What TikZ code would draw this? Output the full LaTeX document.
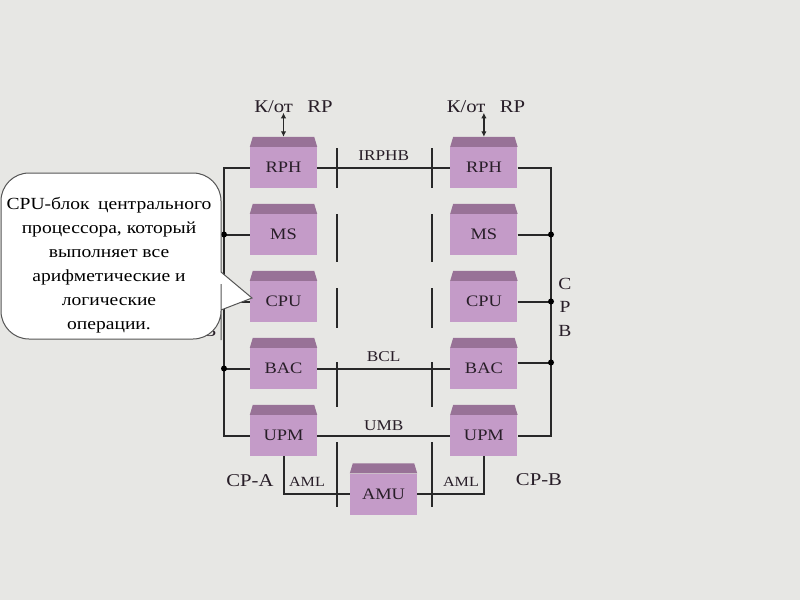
\documentclass[tikz,border=0pt]{standalone}
\usepackage{fontspec}
\setmainfont{Liberation Serif}[FakeStretch=1.15]
\usetikzlibrary{arrows.meta, positioning, calc}
\definecolor{cBack}{RGB}{231,231,228}
\definecolor{cBody}{RGB}{196,155,200}
\definecolor{cTop}{RGB}{152,114,151}
\definecolor{cLine}{RGB}{40,40,40}
\definecolor{cEdge}{RGB}{85,85,85}
\definecolor{cText}{RGB}{40,30,40}
\tikzset{
	unitbox/.style={rectangle, fill=cBody, minimum width=67pt, minimum height=41pt, inner sep=0pt, text=cText, font=\fontsize{16}{16}\selectfont},
	unittop/.style={fill=cTop},
	bus/.style={draw=cLine, line width=2pt},
	tap/.style={circle, fill=black, inner sep=0pt, minimum size=6pt},
	rparrow/.style={{Latex[length=5.5pt,width=5.5pt]}-{Latex[length=5.5pt,width=5.5pt]}, draw=cLine, line width=1.3pt},
	divider/.style={draw=cLine, line width=1.2pt},
	buslabel/.style={font=\fontsize{15}{15}\selectfont, inner sep=0pt, text=cText},
	sidelabel/.style={font=\fontsize{18}{18}\selectfont, inner sep=0pt, text=cText},
	callout/.style={fill=white, draw=cEdge, line width=1pt},
	callouttext/.style={align=center, font=\fontsize{17}{24}\selectfont, inner sep=0pt, text=black},
}
\begin{document}
\begin{tikzpicture}[x=1pt, y=-1pt, node distance=25.6pt]
\fill[cBack] (0,0) rectangle (800,600);
% CP-A column
\node[unitbox] (rphA) at (283.5,167.5) {RPH};
\node[unitbox, below=of rphA] (msA) {MS};
\node[unitbox, below=of msA] (cpuA) {CPU};
\node[unitbox, below=of cpuA] (bacA) {BAC};
\node[unitbox, below=of bacA] (upmA) {UPM};
% CP-B column
\node[unitbox, right=133pt of rphA] (rphB) {RPH};
\node[unitbox, below=of rphB] (msB) {MS};
\node[unitbox, below=of msB] (cpuB) {CPU};
\node[unitbox, below=of cpuB] (bacB) {BAC};
\node[unitbox, below=of bacB] (upmB) {UPM};
\node[unitbox] (amu) at (383.5,494) {AMU};
\foreach \n in {rphA,msA,cpuA,bacA,upmA,rphB,msB,cpuB,bacB,upmB,amu}
	\fill[unittop] (\n.north west) -- ([shift={(3pt,10pt)}]\n.north west) -- ([shift={(-3pt,10pt)}]\n.north east) -- (\n.north east) -- cycle;
% dividers
\foreach \a/\b in {148/188,214/262,288/328,362/407,442/507}{
	\draw[divider] (337,\a) -- (337,\b);
	\draw[divider] (432,\a) -- (432,\b);
}
% buses
\coordinate (busA) at (224,0);
\coordinate (busB) at (551,0);
\draw[bus] (rphA.west) -- (rphA.west -| busA) -- (upmA.west -| busA) -- (upmA.west);
\draw[bus] (rphB.east) -- (rphB.east -| busB) -- (upmB.east -| busB) -- (upmB.east);
\foreach \n in {msA,cpuA,bacA} \draw[bus] (\n.west) -- (\n.west -| busA) node[tap] {};
\foreach \n in {msB,cpuB} \draw[bus] (\n.east) -- (\n.east -| busB) node[tap] {};
\draw[bus] ([yshift=6pt]bacB.east) -- ([yshift=6pt]bacB.east -| busB) node[tap] {};
\draw[bus] (rphA.east) -- node[buslabel, above=6pt] {IRPHB} (rphB.west);
\draw[bus] (bacA.east) -- node[buslabel, above=6pt] {BCL} (bacB.west);
\draw[bus] (upmA.east) -- node[buslabel, above=4pt] {UMB} (upmB.west);
\draw[bus] (upmA.south) |- (amu.west);
\draw[bus] (upmB.south) |- (amu.east);
% labels
\node[buslabel, font=\fontsize{14}{14}\selectfont] (amlA) at (307,482) {AML};
\node[buslabel, font=\fontsize{14}{14}\selectfont] (amlB) at (461,482) {AML};
\node[sidelabel] (cpa) at (250,481) {CP-A};
\node[sidelabel] (cpb) at (539,480) {CP-B};
\node[sidelabel, align=center, font=\fontsize{17}{23.5}\selectfont] (cpbA) at (210,307) {C\\P\\B};
\node[sidelabel, align=center, font=\fontsize{17}{23.5}\selectfont] (cpbB) at (565,307) {C\\P\\B};
\node[sidelabel, anchor=base] (rpA) at (293.5,112.5) {К/от\hspace{0.8em}RP};
\node[sidelabel, anchor=base] (rpB) at (486,112.5) {К/от\hspace{0.8em}RP};
\draw[rparrow] ([yshift=10pt]rphA.north) -- ++(0,-24);
\draw[rparrow] ([yshift=10pt]rphB.north) -- ++(0,-24);
% callout
\draw[callout] (221,310) -- (252,298) -- (221,272) -- (221,240) [rounded corners=28pt] -- (221,173) -- (1,173) -- (1,339) -- (221,339) -- (221,312) [sharp corners] -- cycle;
\node[callouttext] (note) at (109,265) {CPU-блок\hspace{0.5em}центрального\\процессора, который\\выполняет все\\арифметические и\\логические\\операции.};
\end{tikzpicture}
\end{document}
